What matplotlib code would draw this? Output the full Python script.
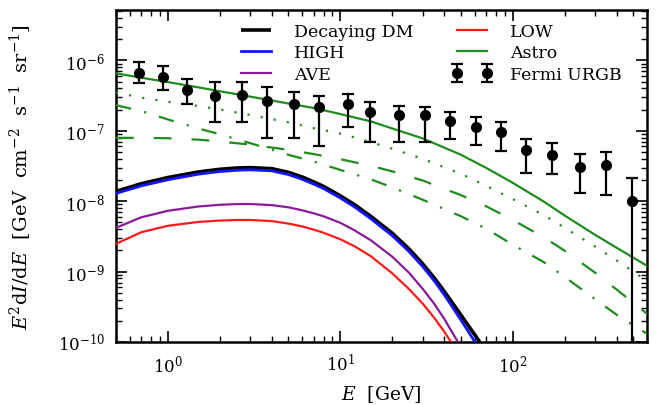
import numpy as np
import matplotlib
matplotlib.use("Agg")
import matplotlib.pyplot as plt
from matplotlib.ticker import FixedLocator, NullFormatter

plt.rcParams['font.family'] = ['DejaVu Serif']
plt.rcParams['mathtext.fontset'] = 'dejavuserif'
plt.rcParams['axes.formatter.use_mathtext'] = True

# ---------------- data ----------------
fermi_E = [0.678, 0.935, 1.295, 1.877, 2.70, 3.78, 5.40, 7.55, 11.03, 14.88,
           21.8, 30.8, 43.4, 60.9, 85.2, 119, 168, 245, 346, 490]
fermi_val = [6.65e-7, 5.78e-7, 3.81e-7, 3.16e-7, 3.23e-7, 2.64e-7, 2.41e-7, 2.17e-7, 2.41e-7, 1.84e-7,
             1.65e-7, 1.65e-7, 1.40e-7, 1.13e-7, 9.6e-8, 5.3e-8, 4.58e-8, 3.05e-8, 3.25e-8, 1.02e-8]
fermi_hi = [9.6e-7, 8.4e-7, 5.46e-7, 4.91e-7, 4.91e-7, 4.17e-7, 3.54e-7, 3.17e-7, 3.34e-7, 2.55e-7,
            2.24e-7, 2.17e-7, 1.84e-7, 1.59e-7, 1.33e-7, 7.7e-8, 6.7e-8, 4.71e-8, 5.0e-8, 2.13e-8]
fermi_lo = [4.8e-7, 3.86e-7, 2.42e-7, 1.33e-7, 1.33e-7, 7.87e-8, 8.0e-8, 6.0e-8, 1.13e-7, 6.9e-8,
            6.9e-8, 7.0e-8, 7.7e-8, 6.3e-8, 5.25e-8, 2.51e-8, 2.42e-8, 1.32e-8, 1.22e-8, 1e-12]

astro_E = [0.5, 0.7, 1, 1.5, 2, 3, 5, 7, 10, 15, 20, 30, 50, 70, 100, 150, 200, 300, 400, 600]
astro_total = [6.56e-7, 5.68e-7, 4.92e-7, 4.14e-7, 3.65e-7, 3.06e-7, 2.44e-7, 2.11e-7, 1.73e-7, 1.36e-7,
               1.08e-7, 7.8e-8, 4.57e-8, 2.98e-8, 1.82e-8, 1.0e-8, 6.25e-9, 3.33e-9, 2.18e-9, 1.21e-9]
astro_dotted = [3.51e-7, 2.96e-7, 2.58e-7, 2.25e-7, 2.01e-7, 1.68e-7, 1.32e-7, 1.09e-7, 9.14e-8, 6.92e-8,
                5.56e-8, 4.0e-8, 2.45e-8, 1.66e-8, 1.07e-8, 6.41e-9, 4.19e-9, 2.27e-9, 1.44e-9, 7.41e-10]
astro_dashed = [7.94e-8, 7.94e-8, 7.84e-8, 7.48e-8, 7.06e-8, 6.36e-8, 5.37e-8, 4.67e-8, 3.95e-8, 3.19e-8,
                2.65e-8, 1.97e-8, 1.22e-8, 8.48e-9, 5.41e-9, 3.11e-9, 1.98e-9, 9.64e-10, 5.56e-10, 2.52e-10]
astro_dashdot = [2.31e-7, 1.91e-7, 1.45e-7, 1.08e-7, 8.93e-8, 6.68e-8, 4.56e-8, 3.66e-8, 2.78e-8, 2.05e-8,
                 1.57e-8, 1.05e-8, 6.12e-9, 4.07e-9, 2.41e-9, 1.38e-9, 8.39e-10, 4.06e-10, 2.44e-10, 1.31e-10]

dm_E = [0.5, 0.7, 1, 1.5, 2, 2.5, 3, 4, 5, 6, 7, 8, 10, 12, 15, 20, 25, 30, 35, 40, 45, 50, 55, 60, 66, 72]
dm_total = [1.38e-8, 1.77e-8, 2.17e-8, 2.60e-8, 2.84e-8, 2.96e-8, 3.0e-8, 2.90e-8, 2.57e-8, 2.21e-8,
            1.88e-8, 1.62e-8, 1.19e-8, 9.02e-9, 6.1e-9, 3.51e-9, 2.1e-9, 1.29e-9, 8.15e-10, 5.25e-10,
            3.49e-10, 2.42e-10, 1.73e-10, 1.28e-10, 9.1e-11, 2e-11]
dm_high = [1.29e-8, 1.65e-8, 2.02e-8, 2.42e-8, 2.64e-8, 2.75e-8, 2.79e-8, 2.70e-8, 2.39e-8, 2.05e-8,
           1.75e-8, 1.51e-8, 1.11e-8, 8.4e-9, 5.65e-9, 3.24e-9, 1.93e-9, 1.18e-9, 7.4e-10, 4.7e-10,
           3.05e-10, 2.05e-10, 1.43e-10, 1.02e-10, 7.0e-11, 1e-11]
ave_E = [0.5, 0.7, 1, 1.5, 2, 2.5, 3, 4, 5, 6, 7, 8, 10, 12, 15, 20, 25, 30, 35, 40, 45, 47.6, 50, 55]
dm_ave = [4.19e-9, 5.90e-9, 7.31e-9, 8.41e-9, 8.89e-9, 9.10e-9, 9.12e-9, 8.80e-9, 8.19e-9, 7.43e-9,
          6.73e-9, 6.10e-9, 4.93e-9, 3.89e-9, 2.79e-9, 1.63e-9, 9.64e-10, 5.71e-10, 3.50e-10, 2.14e-10,
          1.31e-10, 1.04e-10, 8.57e-11, 2e-11]
low_E = [0.5, 0.7, 1, 1.5, 2, 2.5, 3, 4, 5, 6, 7, 8, 10, 12, 15, 20, 25, 30, 35, 40, 42.7, 45, 50]
dm_low = [2.48e-9, 3.62e-9, 4.48e-9, 5.07e-9, 5.31e-9, 5.41e-9, 5.41e-9, 5.22e-9, 4.81e-9, 4.38e-9,
          3.95e-9, 3.56e-9, 2.88e-9, 2.31e-9, 1.66e-9, 9.44e-10, 5.65e-10, 3.52e-10, 2.21e-10, 1.41e-10,
          1.1e-10, 8.9e-11, 1e-11]

legend_order = ['Decaying DM', 'HIGH', 'AVE', 'LOW', 'Astro', 'Fermi URGB']
y_major = [1e-10, 1e-9, 1e-8, 1e-7, 1e-6]

# ---------------- plot ----------------
fig = plt.figure(figsize=(6.56, 4.06), dpi=100)
ax = fig.add_axes([116/656, 63/406, (647-116)/656, (343-11)/406])

green = '#1e8c1e'
ax.plot(dm_E, dm_total, color='black', lw=2.6, label='Decaying DM', zorder=3,
        solid_capstyle='butt')
ax.plot(dm_E, dm_high, color='#1414ff', lw=2.0, label='HIGH', zorder=4)
ax.plot(ave_E, dm_ave, color='#8b1a9b', lw=1.6, label='AVE', zorder=3)
ax.plot(low_E, dm_low, color='#ff1a1a', lw=1.6, label='LOW', zorder=3)
ax.plot(astro_E, astro_total, color=green, lw=1.6, label='Astro', zorder=3)
ax.plot(astro_E, astro_dotted, color=green, lw=1.6, ls=(0, (1, 5)), zorder=3)
ax.plot(astro_E, astro_dashed, color=green, lw=1.6, ls=(0, (8, 9)), zorder=3)
ax.plot(astro_E, astro_dashdot, color=green, lw=1.6, ls=(0, (7, 6, 1, 6)), zorder=3)

fv = np.array(fermi_val)
yerr = [fv - np.array(fermi_lo), np.array(fermi_hi) - fv]
ax.errorbar(fermi_E, fermi_val, yerr=yerr, fmt='o', color='black', ms=7,
            elinewidth=1.6, capsize=4, capthick=1.6, label='Fermi URGB', zorder=5)

ax.set_xscale('log')
ax.set_yscale('log')
ax.set_xlim(0.5, 600)
ax.set_ylim(1e-10, 5.2e-6)

for s in ax.spines.values():
    s.set_linewidth(1.8)
ax.tick_params(which='both', direction='in', top=True, right=True, labelsize=12)
ax.tick_params(which='major', length=8, width=1.2, pad=8)
ax.tick_params(which='minor', length=4, width=1.0)
ax.yaxis.set_major_locator(FixedLocator(y_major))
ax.yaxis.set_minor_locator(FixedLocator([m * d for d in [1e-10, 1e-9, 1e-8, 1e-7, 1e-6]
                                         for m in range(2, 10) if m * d < 5.2e-6]))
ax.yaxis.set_minor_formatter(NullFormatter())
ax.xaxis.set_minor_formatter(NullFormatter())

ax.set_xlabel(r'$E\ \ \mathrm{[GeV]}$', fontsize=13.5, labelpad=6)
ax.set_ylabel(r'$E^2\mathrm{d}I/\mathrm{d}E\ \ [\mathrm{GeV\ \ cm}^{-2}\ \ \mathrm{s}^{-1}\ \ \mathrm{sr}^{-1}]$',
              fontsize=14)
ax.yaxis.set_label_coords(-0.155, 0.5)

handles, labels = ax.get_legend_handles_labels()
hmap = dict(zip(labels, handles))
ax.legend([hmap[k] for k in legend_order], legend_order, ncol=2, frameon=False, fontsize=12.5,
          loc='upper left', bbox_to_anchor=(0.196, 1.008), handlelength=2.36,
          handletextpad=1.0, columnspacing=2.2, labelspacing=0.26, numpoints=2)

fig.savefig('out.png', dpi=100)
